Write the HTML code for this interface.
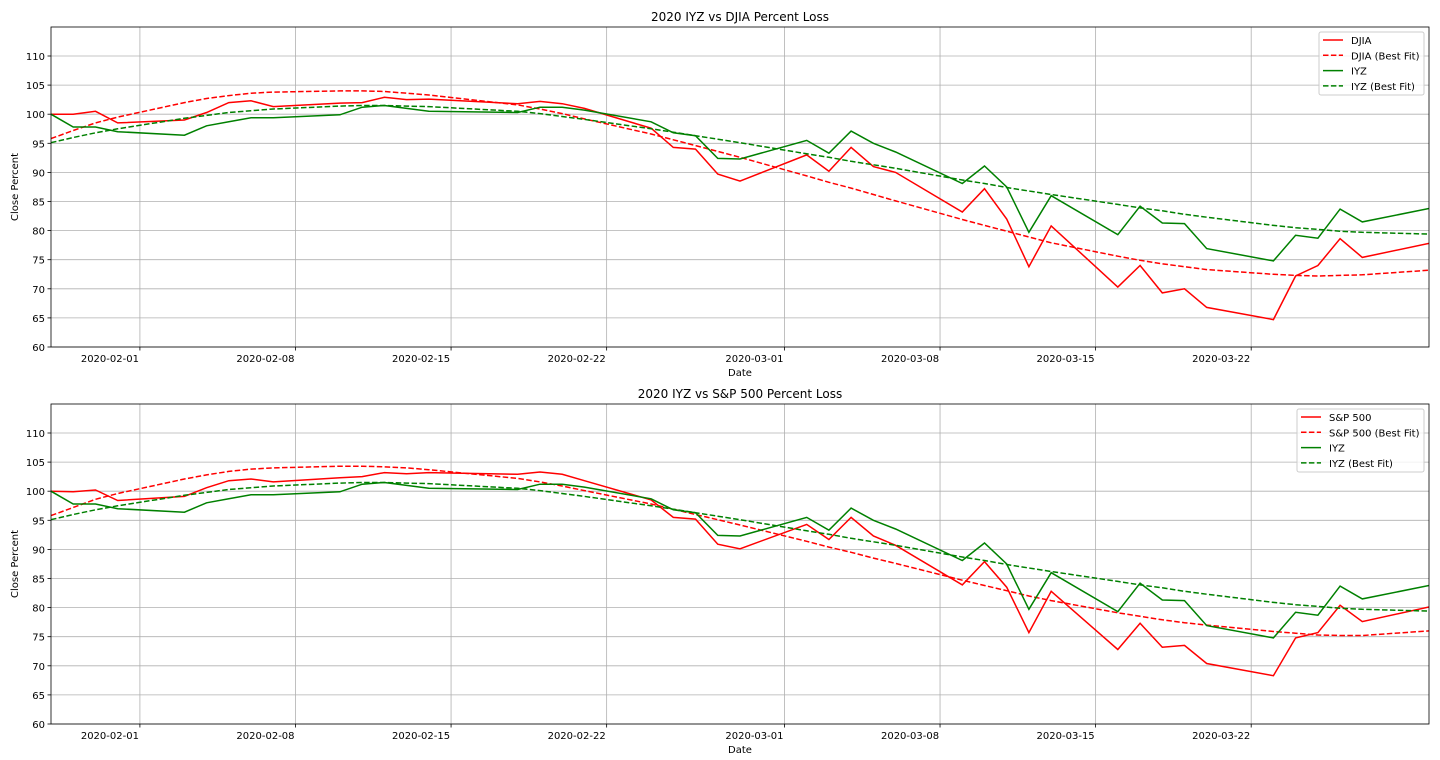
<!DOCTYPE html>
<html><head><meta charset="utf-8"><style>
html,body{margin:0;padding:0;background:#fff;}
svg{display:block;font-family:"DejaVu Sans","Liberation Sans",sans-serif;}
</style></head><body>
<svg id="c" width="1440" height="760"></svg>
<script>
const dates=["2020-01-28","2020-01-29","2020-01-30","2020-01-31","2020-02-03","2020-02-04","2020-02-05","2020-02-06","2020-02-07","2020-02-10","2020-02-11","2020-02-12","2020-02-13","2020-02-14","2020-02-18","2020-02-19","2020-02-20","2020-02-21","2020-02-24","2020-02-25","2020-02-26","2020-02-27","2020-02-28","2020-03-02","2020-03-03","2020-03-04","2020-03-05","2020-03-06","2020-03-09","2020-03-10","2020-03-11","2020-03-12","2020-03-13","2020-03-16","2020-03-17","2020-03-18","2020-03-19","2020-03-20","2020-03-23","2020-03-24","2020-03-25","2020-03-26","2020-03-27","2020-03-30"];
const djia=[100,100,100.5,98.5,99,100.3,102,102.3,101.3,101.9,102,102.9,102.5,102.6,101.8,102.2,101.8,101,97.6,94.3,94,89.7,88.5,93,90.2,94.3,91,90,83.2,87.2,82,73.8,80.8,70.3,74,69.3,70,66.8,64.7,72.2,74,78.6,75.4,77.8];
const djiaFit=[95.8,97.2,98.5,99.5,102,102.7,103.2,103.6,103.8,104,104,103.9,103.6,103.3,101.6,100.9,100.1,99.2,96.6,95.6,94.6,93.6,92.6,89.4,88.3,87.3,86.2,85.1,81.9,80.9,79.9,78.9,77.9,75.6,74.9,74.3,73.8,73.3,72.5,72.3,72.2,72.3,72.4,73.2];
const iyz=[100,97.8,97.8,97,96.4,98,98.7,99.4,99.4,99.9,101.2,101.5,101,100.5,100.3,101.2,101.2,100.7,98.7,96.8,96.3,92.4,92.3,95.5,93.3,97.1,95,93.5,88.1,91.1,87.5,79.7,86,79.3,84.2,81.3,81.2,76.9,74.8,79.2,78.7,83.7,81.5,83.8];
const iyzFit=[95.1,96,96.8,97.5,99.3,99.8,100.3,100.6,100.9,101.4,101.5,101.5,101.4,101.3,100.5,100.1,99.6,99.1,97.5,96.9,96.3,95.7,95.1,93.2,92.6,91.9,91.3,90.7,88.7,88.1,87.4,86.8,86.2,84.5,83.9,83.4,82.8,82.3,80.9,80.5,80.2,79.9,79.7,79.4];
const sp=[100,99.9,100.2,98.4,99.1,100.6,101.8,102.1,101.6,102.3,102.5,103.2,103,103.2,102.9,103.3,102.9,101.8,98.5,95.5,95.2,90.9,90.1,94.3,91.7,95.5,92.3,90.7,83.9,87.9,83.5,75.7,82.8,72.8,77.3,73.2,73.5,70.4,68.3,74.8,75.7,80.4,77.6,80.1];
const spFit=[95.8,97.2,98.6,99.6,102.1,102.8,103.4,103.8,104,104.3,104.3,104.2,104,103.7,102.2,101.6,100.9,100.1,97.8,96.9,96,95.1,94.2,91.4,90.4,89.5,88.5,87.6,84.7,83.8,82.9,82,81.2,79.1,78.5,77.9,77.4,77,75.9,75.6,75.3,75.2,75.2,76];
const yTicks=[60,65,70,75,80,85,90,95,100,105,110];
const xTicks=["2020-02-01","2020-02-08","2020-02-15","2020-02-22","2020-03-01","2020-03-08","2020-03-15","2020-03-22"];

const NS="http://www.w3.org/2000/svg";
const svg=document.getElementById('c');
function mk(tag,attrs,parent){const e=document.createElementNS(NS,tag);for(const k in attrs)e.setAttribute(k,attrs[k]);(parent||svg).appendChild(e);return e;}
const dayMs=86400000;
const t0=Date.parse(dates[0]),t1=Date.parse(dates[dates.length-1]);
function panel(top,title,series,legendW,pname){
  const L=51,R=1429,T=top,B=top+320;
  const g=mk('g',{});
  
  
  const xs=d=>L+(Date.parse(d)-t0)/(t1-t0)*(R-L);
  const ys=v=>B-(v-60)*(291/50);
  yTicks.forEach(v=>{
    const y=ys(v);
    const gl=mk('line',{x1:L,x2:R,y1:y,y2:y,stroke:'#b0b0b0','stroke-width':0.8},g);
    
    mk('line',{x1:L-3.5,x2:L,y1:y,y2:y,stroke:'#000','stroke-width':0.8},g);
    const t=mk('text',{x:L-6,y:y+4,'text-anchor':'end','font-size':10},g);t.textContent=v;
    
  });
  xTicks.forEach(d=>{
    const x=xs(d);
    const gl=mk('line',{x1:x,x2:x,y1:T,y2:B,stroke:'#b0b0b0','stroke-width':0.8},g);
    
    mk('line',{x1:x,x2:x,y1:B,y2:B+3.5,stroke:'#000','stroke-width':0.8},g);
    const t=mk('text',{x:x-30,y:B+15,'text-anchor':'middle','font-size':10},g);t.textContent=d;
    
  });
  const cp=mk('clipPath',{id:'cp'+top},g);mk('rect',{x:L,y:T,width:R-L,height:B-T},cp);
  series.forEach(s=>{
    const pts=s.vals.map((v,i)=>xs(dates[i]).toFixed(1)+','+ys(v).toFixed(1)).join(' ');
    const p=mk('polyline',{points:pts,fill:'none',stroke:s.color,'stroke-width':1.5,'stroke-dasharray':s.dash?'5.5,2.4':'none','clip-path':'url(#cp'+top+')'},g);
    
  });
  const fr=mk('rect',{x:L,y:T,width:R-L,height:B-T,fill:'none',stroke:'#000','stroke-width':0.8},g);
  
  const tt=mk('text',{x:(L+R)/2,y:T-6,'text-anchor':'middle','font-size':12},g);tt.textContent=title;
  
  const xl=mk('text',{x:(L+R)/2,y:B+29,'text-anchor':'middle','font-size':10},g);xl.textContent='Date';
  
  const yl=mk('text',{x:0,y:0,'text-anchor':'middle','font-size':10,transform:`translate(18,${(T+B)/2}) rotate(-90)`},g);yl.textContent='Close Percent';
  
  const lg=mk('g',{},g);
  
  const lx=R-5-legendW,ly=T+5;
  mk('rect',{x:lx,y:ly,width:legendW,height:63,fill:'#fff','fill-opacity':0.8,stroke:'#ccc',rx:2},lg);
  series.forEach((s,i)=>{
    const yy=ly+8+i*15.3;
    mk('line',{x1:lx+4,x2:lx+24,y1:yy,y2:yy,stroke:s.color,'stroke-width':1.5,'stroke-dasharray':s.dash?'5.5,2.4':'none'},lg);
    const t=mk('text',{x:lx+32,y:yy+4,'font-size':10},lg);t.textContent=s.label;
    
  });
}
panel(27,'2020 IYZ vs DJIA Percent Loss',[
  {vals:djia,color:'#ff0000',dash:false,label:'DJIA',name:'djia-line'},
  {vals:djiaFit,color:'#ff0000',dash:true,label:'DJIA (Best Fit)',name:'djia-fit-line'},
  {vals:iyz,color:'#008000',dash:false,label:'IYZ',name:'iyz-line'},
  {vals:iyzFit,color:'#008000',dash:true,label:'IYZ (Best Fit)',name:'iyz-fit-line'}],105,'djia-panel');
panel(404,'2020 IYZ vs S&P 500 Percent Loss',[
  {vals:sp,color:'#ff0000',dash:false,label:'S&P 500',name:'sp500-line'},
  {vals:spFit,color:'#ff0000',dash:true,label:'S&P 500 (Best Fit)',name:'sp500-fit-line'},
  {vals:iyz,color:'#008000',dash:false,label:'IYZ',name:'iyz-line'},
  {vals:iyzFit,color:'#008000',dash:true,label:'IYZ (Best Fit)',name:'iyz-fit-line'}],127,'sp500-panel');
</script>
</body></html>
